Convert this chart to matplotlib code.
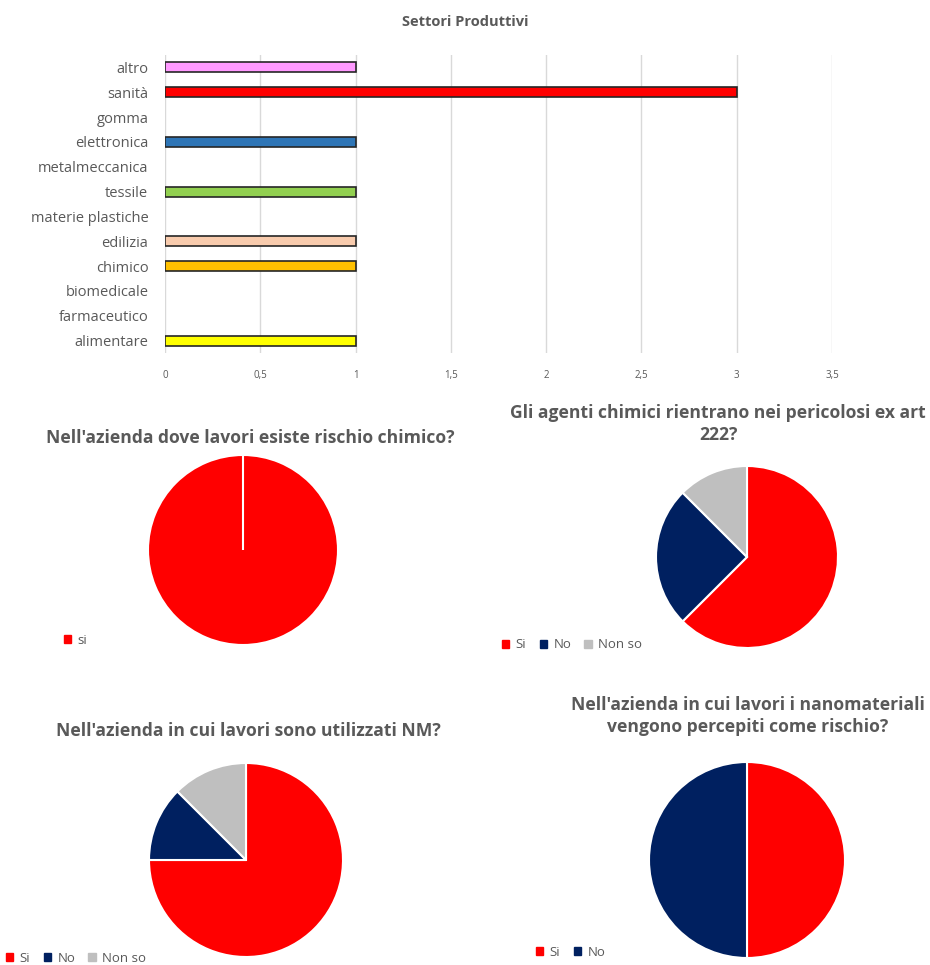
import matplotlib
matplotlib.use("Agg")
import matplotlib.pyplot as plt
from matplotlib.patches import Patch

plt.rcParams['font.family'] = ['Open Sans', 'DejaVu Sans']

# ---- data ----
sectors = ["alimentare", "farmaceutico", "biomedicale", "chimico", "edilizia",
           "materie plastiche", "tessile", "metalmeccanica", "elettronica",
           "gomma", "sanità", "altro"]
sector_counts = [1, 0, 0, 1, 1, 0, 1, 0, 1, 0, 3, 1]
sector_colors = ["#FFFF00", "#FFFFFF", "#FFFFFF", "#FFC000", "#F8CBAD",
                 "#FFFFFF", "#92D050", "#FFFFFF", "#2E75B6", "#FFFFFF",
                 "#FF0000", "#FF99FF"]
x_ticks = [0, 0.5, 1, 1.5, 2, 2.5, 3, 3.5]
x_ticklabels = ["0", "0,5", "1", "1,5", "2", "2,5", "3", "3,5"]

q1_title = "Nell'azienda dove lavori esiste rischio chimico?"
q1_labels = ["si"]
q1_values = [1]

q2_title = "Gli agenti chimici rientrano nei pericolosi ex art\n222?"
q2_labels = ["Si", "No", "Non so"]
q2_values = [5, 2, 1]

q3_title = "Nell'azienda in cui lavori sono utilizzati NM?"
q3_labels = ["Si", "No", "Non so"]
q3_values = [6, 1, 1]

q4_title = "Nell'azienda in cui lavori i nanomateriali\nvengono percepiti come rischio?"
q4_labels = ["Si", "No"]
q4_values = [1, 1]

RED, NAVY, GREY = "#FF0000", "#002060", "#BFBFBF"
TXT = "#595959"

W, H = 930, 965
fig = plt.figure(figsize=(W / 100, H / 100), dpi=100)
fig.patch.set_facecolor("white")


def px_axes(x0, y0, x1, y1):
    """Axes from pixel box (top-left origin)."""
    return fig.add_axes([x0 / W, 1 - y1 / H, (x1 - x0) / W, (y1 - y0) / H])


# ---- bar chart ----
ax = px_axes(165, 55, 832, 353)
ypos = list(range(len(sectors)))
edge_widths = [1.2 if v > 0 else 0 for v in sector_counts]
ax.barh(ypos, sector_counts, height=0.4, color=sector_colors,
        edgecolor="#262626", linewidth=edge_widths, zorder=3)
ax.set_xlim(0, 3.5)
ax.set_ylim(-0.5, len(sectors) - 0.5)
ax.set_xticks(x_ticks)
ax.set_xticklabels(x_ticklabels)
ax.set_yticks(ypos)
ax.set_yticklabels(sectors)
ax.grid(axis="x", color="#D9D9D9", linewidth=1, zorder=0)
for s in ax.spines.values():
    s.set_visible(False)
ax.tick_params(axis="both", length=0, colors=TXT)
ax.tick_params(axis="y", labelsize=10.5, pad=12)
ax.tick_params(axis="x", labelsize=7, pad=12)
fig.text(465 / W, 1 - 22 / H, "Settori Produttivi", ha="center", va="center",
         fontsize=10.5, fontweight="bold", color=TXT)


def pie_panel(cx, cy, r, values, labels, colors, title, title_xy, leg_xy,
              extra_zero=False):
    pax = px_axes(cx - r, cy - r, cx + r, cy + r)
    vals = list(values) + ([0] if extra_zero else [])
    cols = list(colors) + (["white"] if extra_zero else [])
    wedges, _ = pax.pie(vals, colors=cols, startangle=90, counterclock=False,
                        radius=1, wedgeprops=dict(edgecolor="white", linewidth=1.5))
    for w in wedges:
        w.set_clip_on(False)
    pax.set_xlim(-1, 1)
    pax.set_ylim(-1, 1)
    pax.set_aspect("equal")
    pax.axis("off")
    fig.text(title_xy[0] / W, 1 - title_xy[1] / H, title, ha="center", va="center",
             fontsize=12.6, fontweight="bold", color=TXT, linespacing=1.3)
    handles = [Patch(facecolor=c, edgecolor=c) for c in colors]
    fig.legend(handles, labels, loc="center left",
               bbox_to_anchor=(leg_xy[0] / W, 1 - leg_xy[1] / H),
               ncol=len(labels), frameon=False, fontsize=9.5,
               handlelength=0.55, handleheight=0.55, handletextpad=0.5,
               columnspacing=1.0, labelcolor=TXT, borderaxespad=0, borderpad=0)


pie_panel(243, 550, 95, q1_values, q1_labels, [RED], q1_title, (250, 438),
          (64, 640), extra_zero=True)
pie_panel(747, 557, 91, q2_values, q2_labels, [RED, NAVY, GREY], q2_title,
          (718, 424), (502, 645))
pie_panel(246, 860, 97, q3_values, q3_labels, [RED, NAVY, GREY], q3_title,
          (248, 731), (6, 958))
pie_panel(747, 860, 98, q4_values, q4_labels, [RED, NAVY], q4_title,
          (748, 716), (536, 952))

fig.savefig("out.png", dpi=100, facecolor="white")
